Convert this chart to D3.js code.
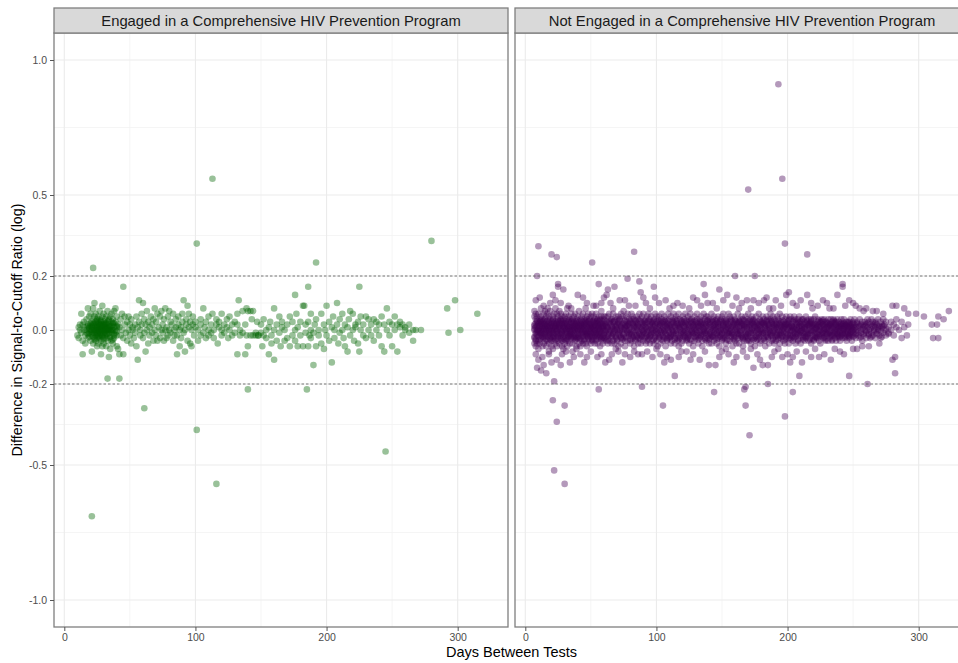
<!DOCTYPE html>
<html><head><meta charset="utf-8">
<script src="https://cdn.jsdelivr.net/npm/d3@7"></script>
<style>
html,body{margin:0;padding:0;background:#fff;}
svg{display:block;font-family:"Liberation Sans",Arial,Helvetica,sans-serif;}
</style></head>
<body><svg id="chart" width="958" height="663"></svg>
<script>
// ---------- DATA ----------
const panelTitles = ["Engaged in a Comprehensive HIV Prevention Program", "Not Engaged in a Comprehensive HIV Prevention Program"];
const xTicks = [0, 100, 200, 300];
const xTickLabels = ["0", "100", "200", "300"];
const xMinorTicks = [50, 150, 250];
const yTicks = [-1, -0.5, -0.2, 0, 0.2, 0.5, 1];
const yTickLabels = ["-1.0", "-0.5", "-0.2", "0.0", "0.2", "0.5", "1.0"];
const yMinorTicks = [-0.75, -0.35, -0.1, 0.1, 0.35, 0.75];
const refLines = [-0.2, 0.2];
const xTitle = "Days Between Tests";
const yTitle = "Difference in Signal-to-Cutoff Ratio (log)";

// Engaged: isolated points [day, diff]
const engagedOutliers = [[22,.23],[113,.56],[101,.32],[280,.33],[192,.25],[61,-.29],[101,-.37],[245,-.45],[116,-.57],[21,-.69],
 [33,-.18],[42,-.18],[140,-.22],[185,-.22],[45,.16],[186,.16],[225,.16],[292,.08],[298,.11],[315,.06],[293,-.01],[302,0],[176,.13]];
// Engaged: rows of [day, diff, diff, ...]
const engagedRows = [
 [10,-.02],[11,.01,-.03],[12,.02,0],[13,-.01,.06],[14,-.09,.02,-.04],[15,0,.03],[16,-.02,.01,-.05],[17,.04,-.01,0],[18,.02,-.03,.08],[19,-.01,.05,.01],[20,-.04,.02,0,.06],
 [21,0,-.08,.03,-.02,.01],[22,.04,-.01,.02,-.05,.08],[23,.1,-.03,0,.02,-.01,.05],[24,.01,-.04,.03,0,-.02,.06],[25,.02,-.01,0,.04,-.06,.01,-.03],
 [26,-.02,.03,0,.01,-.05,.05,-.01],[27,.01,-.03,.02,0,.07,-.02,.04],[28,0,-.09,.02,-.01,.03,-.04,.01],[29,.05,-.02,0,.01,.09,-.06,.02],[30,-.01,.03,0,-.03,.02,.06,-.05],
 [31,.02,0,-.02,.04,-.01,.01],[32,-.03,.01,.05,0,-.06,.02],[33,0,.03,-.02,.07,-.04,.01],[34,-.1,.02,0,-.01,.04],[35,.01,-.03,.05,0,-.07],
 [36,.03,-.01,0,.06,-.04],[37,0,.02,-.05,.04],[38,-.02,.01,.07,-.03],[39,.08,0,-.01,.03],[40,-.02,.05,.01,-.06],
 [41,-.07,.02],[42,.01,-.09],[43,.04,-.02],[44,0,.06],[45,-.09,-.03],[46,.02,.05],[47,-.01],[48,.03,-.04],[49,0,.05],[50,-.02,.02],
 [51,.04,-.05],[52,0,.01],[53,-.03],[54,.02,-.01],[55,.05,-.06],[56,-.11,.01],[57,.03,.11],[58,-.02,0],[59,.06,.02],[60,.1,-.03],
 [61,.04,-.01],[62,.02,-.08],[63,0,.07],[64,-.05,.03],[65,.01,-.02],[66,.05],[67,-.01,.02],[68,.04,-.04],[69,0,.08],[70,-.02,.03],
 [71,.06,-.04],[72,.01],[73,-.03,.05],[74,.07,0],[75,.02,-.01],[76,-.04,.04],[77,.08,0],[78,.01,-.03],[79,.05,-.02],[80,0,.07],
 [81,-.01,.03],[82,.02],[83,-.04,.06],[84,0,-.02],[85,.04,.01],[86,-.09,-.02],[87,.02,.05],[88,-.06,0],[89,.01,-.03],[90,.03,.06],
 [91,.11,-.01],[92,0,-.08],[93,.04,.02],[94,.09,-.04],[95,.01,.06],[96,-.05,.03],[97,0,-.06],[98,.02,.05],[99,-.02],[100,.01,.03],
 [102,-.04,0],[104,.02,-.02,.04],[106,-.01,.08],[107,.01],[108,-.03,.03],[110,0,.05,-.02],[112,-.01,.02],[113,.06],[114,0,-.03],[116,.02,.04],
 [117,-.05],[118,.01,.03],[120,-.02,.06,0],[122,.02,-.01],[124,.04,.01],[125,-.03],[126,0,.05],[128,-.02,.02],[130,.03,-.01],[132,.06,-.09,.02],
 [133,.11],[134,-.02,0],[136,.07,-.01],[138,-.09,.02],[139,.08,-.02],[140,-.06,.07],[142,.07,-.02],[143,.04],[144,-.02,.07],[146,-.01,-.02],
 [147,.03],[148,-.02,-.02],[150,-.01,.02],[151,-.06],[152,-.02,.04],[154,0,-.03],[156,-.09,.01],[157,.03],[158,-.02,-.05],[160,.08,-.11,0],
 [162,.02,-.04],[164,-.01,.05],[165,-.06],[166,.01,.03],[168,-.04,0],[170,-.03,.02],[172,.05,-.06],[174,-.02,.03],[176,0,-.04],[177,.06],
 [178,-.06,.01],[180,.03,-.02],[182,.09,-.06],[183,.09],[184,.02,-.01],[186,-.06,.03],[187,-.02],[188,0,.06,-.03],[190,-.13,-.01],[191,.02],
 [192,-.06,.04],[194,0,-.02],[196,.06,-.05],[198,.02,-.07],[199,0],[200,.09,-.02],
 [202,.03,-.04],[204,-.12,.01],[205,.05],[206,0,-.03],[208,.1,.02],[209,-.05],[210,.04,-.01],[212,0,.06],[213,-.03],[214,.02,-.06],
 [216,-.08,.01],[217,.04],[218,.07,-.02],[220,0,.06],[221,-.04],[222,.02,.01],[224,-.05,.03],[225,-.08],[226,0,.05],[228,.02,-.02],
 [230,.05,-.03],[232,0,.04],[234,-.02,.02],[236,.04,-.04],[238,0,.03],[240,-.02,.02],[242,.05,-.06],[244,.02,-.08],[246,.08,0],[248,.03,-.02],
 [250,.02,-.06],[252,.05,0],[254,-.08,.02],[256,.03,.01],[258,.02,-.02],[260,0,.01],[263,-.01,.02],[266,-.04,0],[268,0],[272,0]
];
// Engaged: extra points in the dense early cluster
const engagedCluster = [
 [18,.015,-.015],[19,-.025,.005],[20,.025,-.005],[21,-.015,.015],[22,.005,-.025],[23,-.035,.025],[24,.015,-.005],[25,-.015,.035],
 [26,.025,-.025],[27,-.005,.015],[28,.035,-.015],[29,-.025,.005],[30,.015,-.035],[31,-.005,.025],[32,.025,-.015],[33,-.015,.005],
 [34,.005,.035],[35,-.025,.015],[36,.015,-.005],[37,-.035,.025],[38,.025,-.015],[40,-.005,.015]
];

// Not engaged: isolated points [day, diff]
const notEngagedOutliers = [[193,.91],[196,.56],[170,.52],[198,.32],[215,.28],[10,.31],[20,.28],[24,.27],[51,.25],[83,.29],[9,.2],[78,.19],[87,.18],
 [160,.2],[175,.2],[136,.17],[56,.17],[25,.17],[242,.17],
 [22,-.19],[56,-.22],[89,-.21],[144,-.23],[168,-.21],[167,-.22],[185,-.2],[204,-.23],[261,-.2],[21,-.26],[30,-.28],[105,-.28],[168,-.28],
 [198,-.32],[24,-.34],[171,-.39],[22,-.52],[30,-.57]];
// Not engaged: scattered points near the band [day, diff]
const notEngagedFringe = [[25,.16],[29,.15],[21,.13],[8,.11],[40,.13],[44,.12],[63,.15],[62,.13],[68,.16],[72,.11],[76,.11],[88,.14],[98,.16],[99,.12],[107,.11],
 [120,.09],[131,.11],[137,.13],[139,.1],[143,.1],[148,.15],[154,.13],[165,.1],[169,.11],[174,.11],[182,.11],[191,.11],[199,.13],[201,.14],[215,.13],
 [223,.09],[227,.11],[238,.13],[242,.16],[250,.1],[252,.09],[260,.08],[273,.06],[280,.09],[283,.09],[289,.08],[292,.06],[298,.06],[304,.05],
 [310,.02],[314,.02],[315,.05],[319,.04],[323,.07],[311,-.03],[315,-.03],[291,-.02],
 [14,.09],[19,.1],[33,.09],[52,.09],[58,.1],[67,.08],[84,.09],[92,.1],[113,.09],[125,.08],[158,.09],[163,.08],[186,.08],[195,.09],[207,.09],
 [219,.08],[232,.08],[244,.09],[255,.08],[268,.07],
 [11,.12],[17,.08],[23,.11],[27,.1],[35,.08],[47,.1],[54,.09],[60,.12],[65,.1],[79,.09],[90,.12],[95,.08],[102,.1],[110,.08],[116,.1],
 [128,.12],[134,.09],[146,.08],[151,.11],[161,.12],[172,.08],[178,.1],[184,.12],[189,.08],[204,.1],[210,.11],[218,.1],[230,.1],[235,.08],
 [247,.11],[258,.07],[265,.07],
 [9,-.14],[14,-.13],[12,-.15],[16,-.16],[10,-.11],[27,-.13],[45,-.12],[61,-.12],[76,-.09],[89,-.09],[97,-.1],[111,-.11],[114,-.17],[117,-.1],
 [133,-.11],[140,-.13],[145,-.13],[169,-.1],[174,-.14],[181,-.13],[185,-.13],[188,-.1],[196,-.1],[204,-.1],[209,-.17],[211,-.12],[218,-.1],
 [224,-.1],[247,-.17],[280,-.11],[282,-.1],[282,-.16],
 [8,-.09],[13,-.1],[18,-.09],[24,-.11],[31,-.08],[37,-.1],[42,-.09],[50,-.08],[55,-.1],[66,-.09],[71,-.08],[80,-.1],[86,-.09],[93,-.08],
 [103,-.09],[108,-.1],[123,-.08],[128,-.09],[150,-.08],[155,-.09],[161,-.1],[177,-.09],[190,-.08],[200,-.09],[214,-.08],[228,-.09],
 [236,-.07],[240,-.08],[253,-.07],[262,-.06],[270,-.05],
 [20,-.12],[28,-.09],[34,-.12],[39,-.07],[47,-.1],[58,-.09],[64,-.11],[69,-.07],[74,-.12],[83,-.08],[100,-.07],[106,-.12],[119,-.08],
 [126,-.11],[137,-.08],[148,-.1],[153,-.07],[159,-.12],[166,-.08],[172,-.07],[179,-.11],[193,-.07],[202,-.12],[207,-.08],[221,-.07],
 [233,-.11],[243,-.09],[250,-.07],[257,-.06]];
// Not engaged: dense band, rows of [day, diff, diff, ...]
const notEngagedRows = [
 [7,.02,-.03,.05,0,-.05,.07],[8,-.01,.04,-.04,.01,.06,-.06],[9,.03,-.02,0,.05,-.05],[10,0,-.04,.02,.06,-.01,-.07],[11,.04,-.01,.01,-.05,.03],
 [12,-.02,.02,.05,-.03,0,.08],[13,.01,-.06,.03,-.01,.04],[14,-.03,0,.06,.02,-.05],[15,.02,-.02,.04,-.04,.01,.07],[16,0,.03,-.06,.05,-.01],
 [17,-.04,.01,.02,-.02,.06],[18,.05,-.01,0,-.05,.03,-.08],[19,-.02,.04,.01,-.03,.07],[20,.03,-.04,0,.02,-.06],[21,-.01,.05,-.03,.01,.04,-.07],
 [22,.02,-.02,.06,-.04,0],[23,-.05,.03,.01,-.01,.08],[24,.04,-.03,0,.02,-.06,.06],[25,-.02,.01,.05,-.04,.03],[26,.01,-.05,.02,-.01,.07],
 [27,-.03,.04,0,.06,-.02],[28,.02,-.01,-.06,.03,.05,-.04],[29,0,.04,-.03,.01,-.07],[30,.05,-.02,.02,-.05,.01],[31,-.01,.03,-.04,.06,0],
 [32,.02,-.03,.04,-.01,-.06,.08],[33,-.04,.01,.03,-.02,.05],[34,.01,-.05,0,.04,-.02],[35,.03,-.01,.06,-.03,.01],[36,-.02,.04,-.05,.02,0,-.08],
 [37,.05,-.03,.01,-.01,.03],[38,0,.02,-.04,.06,-.02],[39,-.03,.04,.01,-.06,.03],[40,.02,-.01,.05,-.03,0],[41,-.05,.03,-.02,.01,.07],
 [42,.04,0,-.03,.02,-.06],[43,-.01,.05,.02,-.04,.01],[44,.03,-.02,0,.06,-.05],[45,-.04,.01,.04,-.01,.02],[46,.02,-.05,.03,0,-.02,.08],
 [47,-.02,.04,-.01,.05,-.06],[48,.01,-.03,.06,-.01,.03],[49,-.04,.02,0,.04,-.02],[50,.05,-.01,.02,-.05,.01],[51,-.02,.03,-.04,.01,.06],
 [52,.03,0,-.03,.05,-.01],[53,-.05,.02,.04,-.02,0],[54,.01,-.04,.03,.06,-.01],[55,.04,-.02,0,-.05,.02],[56,-.01,.05,-.03,.01,.03],
 [57,.02,-.06,.04,0,-.02],[58,-.03,.01,.05,-.01,.07],[59,.03,-.04,.01,.02,-.05],[60,0,.04,-.02,.05,-.03],
 [61,.02,-.03,.05,-.01],[62,-.04,.01,.03,0],[63,.05,-.02,.01,-.05],[64,-.01,.03,-.04,.06],[65,.02,0,-.03,.04],[66,-.05,.04,.01,-.02],
 [67,.03,-.01,.06,-.04],[68,0,.02,-.05,.03],[69,-.02,.05,.01,-.03],[70,.04,-.04,0,.02],[71,-.01,.03,-.06,.05],[72,.02,-.02,.04,0],
 [73,-.03,.01,.06,-.05],[74,.05,-.01,-.03,.02],[75,0,.04,-.02,.07],[76,-.04,.02,.01,-.06],[77,.03,-.03,.05,0],[78,-.01,.06,-.04,.02],
 [79,.02,0,-.02,.04],[80,-.05,.03,.01,-.01],[81,.04,-.02,.06,-.04],[82,0,.02,-.03,.05],[83,-.02,.04,.01,-.06],[84,.03,-.01,-.04,.02],
 [85,.01,.05,-.02,0],[86,-.03,.02,.04,-.05],[87,.06,-.01,.01,-.03],[88,-.02,.03,-.05,.04],[89,.01,0,.05,-.02],[90,-.04,.02,-.01,.06],
 [91,.03,-.03,.02,0],[92,-.01,.04,-.05,.01],[93,.05,-.02,.03,-.04],[94,0,.01,-.03,.06],[95,-.02,.04,.02,-.05],[96,.03,-.01,.05,-.02],
 [97,-.04,.02,0,.03],[98,.01,-.05,.04,-.01],[99,.06,.02,-.03,0],[100,-.02,.03,-.04,.05],[101,.01,-.01,.04,-.06],[102,-.03,.05,.02,0],
 [103,.02,-.02,-.05,.03],[104,0,.04,-.01,.06],[105,-.04,.01,.03,-.02],[106,.05,-.03,0,.02],[107,-.01,.03,-.06,.04],[108,.02,-.02,.01,-.04],
 [109,-.03,.06,.02,0],[110,.04,-.01,-.03,.01],[111,-.02,.02,.05,-.05],[112,.01,-.04,.03,0],[113,.03,.06,-.02,-.01],[114,-.05,.01,.04,-.03],
 [115,.02,-.01,0,.05],[116,-.03,.04,-.04,.02],[117,.01,-.02,.06,-.06],[118,.04,0,-.03,.02],[119,-.01,.03,-.05,.01],[120,.05,-.02,.02,-.04],
 [121,0,.04,-.01,.03],[122,-.03,.01,.06,-.02],[123,.02,-.04,.03,0],[124,-.01,.05,-.03,.02],[125,.04,-.02,.01,-.05],[126,-.02,.03,0,.06],
 [127,.01,-.04,.04,-.01],[128,.03,-.01,-.06,.02],[129,-.04,.02,.05,0],[130,.01,-.03,.03,-.02],[131,.06,0,-.01,.04],[132,-.02,.02,-.05,.01],
 [133,.03,-.03,.04,-.01],[134,0,.05,-.02,.02],[135,-.04,.01,.03,-.06],[136,.02,-.02,.06,0],[137,-.01,.04,-.03,.01],[138,.05,-.01,.02,-.04],
 [139,-.03,.03,0,.05],[140,.01,-.05,.04,-.02],[141,.03,-.01,-.03,.02],[142,-.02,.06,.01,-.05],[143,.04,0,-.02,.03],[144,-.01,.02,-.04,.05],
 [145,.02,-.03,.01,0],[146,-.05,.04,.03,-.01],[147,.01,-.02,.05,-.03],[148,.03,.01,-.01,-.06],[149,-.02,.04,.02,0],[150,.05,-.04,-.01,.03],
 [151,0,.02,-.03,.06],[152,-.03,.01,.04,-.02],[153,.02,-.05,0,.03],[154,-.01,.04,-.02,.01],[155,.06,-.01,.02,-.04],[156,-.04,.03,-.01,.05],
 [157,.01,-.02,.04,0],[158,.03,-.06,.01,-.01],[159,-.02,.02,.05,-.03],[160,.04,0,-.04,.02],[161,-.01,.03,.01,-.05],[162,.02,-.03,.06,0],
 [163,-.05,.01,.03,-.02],[164,.03,-.01,-.03,.04],[165,0,.05,-.02,.02],[166,-.03,.02,.04,-.06],[167,.01,-.04,.02,0],[168,.05,-.02,-.01,.03],
 [169,-.02,.04,.01,-.04],[170,.03,-.01,.06,-.03],[171,-.04,.02,0,.01],[172,.02,-.05,.04,-.01],[173,-.01,.03,-.03,.05],[174,.04,0,.02,-.02],
 [175,-.03,.01,-.06,.03],[176,.01,.05,-.01,-.04],[177,-.02,.02,.03,0],[178,.06,-.03,-.01,.02],[179,0,.04,-.05,.01],[180,-.04,.02,.03,-.02],
 [181,.03,-.01,0,.05],[182,-.01,.04,-.03,.02],[183,.02,-.04,.01,-.06],[184,.05,0,-.02,.03],[185,-.03,.02,.04,-.01],[186,.01,-.05,.02,0],
 [187,.04,-.02,-.01,.06],[188,-.02,.03,.01,-.04],[189,.02,-.01,.05,-.03],[190,-.05,.04,0,.02],[191,.03,-.02,-.04,.01],[192,-.01,.05,.02,-.02],
 [193,.04,-.03,.01,0],[194,-.02,.02,-.05,.06],[195,.01,-.01,.03,-.03],[196,.05,.02,-.02,0],[197,-.04,.03,.01,-.01],[198,.02,-.05,.04,.01],
 [199,-.01,.02,-.03,.05],[200,.03,0,-.02,.02],[201,-.03,.04,.01,-.05],[202,.01,-.01,.05,-.02],[203,.04,-.03,0,.02],[204,-.02,.01,.03,-.04],
 [205,.05,-.01,-.03,.01],[206,0,.03,-.05,.04],[207,-.01,.02,.01,-.02],[208,.03,-.04,.04,0],[209,-.03,.01,-.01,.05],[210,.02,-.02,.03,-.05],
 [211,-.01,.04,0,.01],[212,.04,-.03,.02,-.01],[213,-.02,.01,-.04,.03],[214,.01,.05,-.01,-.03],[215,.03,-.02,.02,0],[216,-.04,.02,.04,-.01],
 [217,.02,-.01,-.03,.01],[218,0,.03,-.05,.04],[219,-.02,.01,.02,-.03],[220,.04,-.04,0,.02],[221,-.01,.02,.05,-.02],[222,.02,-.03,.01,-.01],
 [223,-.03,.04,.03,0],[224,.01,-.02,-.04,.02],[225,.03,0,.01,-.05],[226,-.02,.03,-.01,.04],[227,.02,-.01,.02,-.03],[228,0,.04,-.03,.01],
 [229,-.04,.02,.03,-.01],[230,.03,-.02,.01,0],[231,-.01,.01,-.04,.04],[232,.02,-.03,.02,-.01],[233,.04,0,-.02,.02],[234,-.02,.03,.01,-.04],
 [235,.01,-.01,.04,-.02],[236,-.03,.02,0,.03],[237,.03,-.04,.02,-.01],[238,0,.01,-.02,.04],[239,-.02,.03,.01,-.03],[240,.02,-.01,-.04,.01],
 [241,.04,0,.02,-.02],[242,-.01,.02,-.03,.03],[243,.01,-.02,.04,0],[244,-.03,.01,.02,-.01],[245,.02,-.04,0,.03],[246,-.01,.03,.01,-.02],
 [247,.03,-.02,-.03,.01],[248,0,.02,.04,-.01],[249,-.02,.01,-.04,.02],[250,.03,-.01,.01,0],
 [251,-.02,.02,.04],[252,.01,-.03,0],[253,.03,-.01],[254,-.02,.02,.01],[255,.04,-.03],[256,0,.02,-.01],[257,-.04,.03],[258,.01,-.02,.02],
 [259,.03,0],[260,-.01,.02,-.03],[261,.04,.01],[262,-.02,0,.03],[263,.02,-.03],[264,-.01,.01,.04],[265,.03,-.02],[266,0,.02],
 [267,-.03,.01,.03],[268,.02,-.01],[269,.04,0],[270,-.02,.01],[271,.03,-.03],[272,.01,.02],[273,-.01,.04],[274,.02,0],[275,-.02,.03],
 [277,.01,-.01],[279,.03,0],[281,.02,-.02],[283,.04,.01],[285,0],[287,.03,-.03],[289,.01],[292,.02]
];
// Not engaged: second layer of the dense core, rows of [day, diff, ...]
const notEngagedCore = [
 [7,.015,-.025,.005],[8,-.015,.025,-.035],[9,.035,-.005,.015],[10,-.025,.005,.025],[11,.015,-.035,-.005],[12,.025,-.015,.035],[13,-.005,.015,-.025],
 [14,.035,-.025,.005],[15,-.015,.005,.025],[16,.015,-.035,-.005],[17,-.025,.035,.015],[18,.005,-.015,.025],[19,-.035,.015,-.005],[20,.025,-.025,.005],
 [21,-.005,.035,-.015],[22,.015,-.025,.025],[23,-.035,.005,.015],[24,.025,-.005,-.015],[25,.005,.035,-.025],[26,-.015,.015,.025],[27,.035,-.035,.005],
 [28,-.005,.025,-.015],[29,.015,-.025,.035],[30,-.035,.005,.025],[31,.025,-.015,-.005],[32,.005,.015,-.035],[33,-.025,.035,.005],[34,.015,-.005,-.015],
 [35,-.015,.025,-.025],[36,.035,.005,-.005],[37,-.025,.015,.025],[38,.005,-.035,.015],[39,.025,-.005,-.025],[40,-.015,.035,.005],[41,.015,-.025,-.005],
 [42,-.035,.025,.015],[43,.005,-.015,.035],[44,-.025,.015,-.005],[45,.025,-.035,.005],[46,-.005,.035,-.015],[47,.015,-.025,.025],[48,-.015,.005,-.035],
 [49,.035,-.005,.015],[50,-.025,.025,.005],[51,.005,-.015,-.035],[52,.015,.035,-.025],[53,-.005,.025,.005],[54,-.035,.015,-.015],[55,.025,-.025,.035],
 [56,-.015,.005,.015],[57,.035,-.005,-.025],[58,.005,-.035,.025],[59,-.025,.015,-.005],[60,.015,-.015,.035],
 [61,-.005,.025],[62,.015,-.025],[63,-.035,.005],[64,.025,-.015],[65,-.005,.035],[66,.015,-.025],[67,-.015,.005],[68,.035,-.005],[69,-.025,.015],[70,.005,-.035],
 [71,.025,-.015],[72,-.005,.035],[73,.015,-.025],[74,-.035,.005],[75,.025,-.015],[76,.005,.035],[77,-.025,.015],[78,.015,-.005],[79,-.015,.025],[80,.035,-.035],
 [81,.005,-.015],[82,-.025,.025],[83,.015,-.005],[84,-.035,.035],[85,.025,-.025],[86,-.005,.015],[87,.035,-.015],[88,.005,-.035],[89,-.025,.025],[90,.015,-.005],
 [91,-.015,.035],[92,.025,-.025],[93,-.005,.005],[94,.035,-.035],[95,-.025,.015],[96,.005,-.015],[97,.025,-.005],[98,-.035,.035],[99,.015,-.025],[100,-.005,.005],
 [101,.025,-.015],[102,-.025,.035],[103,.015,-.005],[104,-.035,.025],[105,.005,-.025],[106,.035,-.005],[107,-.015,.015],[108,.025,-.035],[109,-.005,.035],[110,.015,-.025],
 [111,-.025,.005],[112,.035,-.015],[113,-.005,.025],[114,.015,-.035],[115,-.015,.035],[116,.025,-.005],[117,-.035,.015],[118,.005,-.025],[119,.025,.035],[120,-.015,-.005],
 [121,.015,-.025],[122,-.005,.025],[123,.035,-.035],[124,-.025,.005],[125,.015,-.015],[126,-.035,.035],[127,.025,-.005],[128,-.015,.015],[129,.005,-.025],[130,.035,-.005],
 [131,-.025,.025],[132,.015,-.035],[133,-.005,.015],[134,.025,-.025],[135,-.015,.035],[136,.005,-.005],[137,-.035,.025],[138,.015,-.015],[139,-.005,.035],[140,.025,-.035],
 [141,-.015,.005],[142,.035,-.025],[143,-.025,.015],[144,.005,-.005],[145,.025,.035],[146,-.035,-.015],[147,.015,.025],[148,-.005,-.025],[149,.035,.005],[150,-.015,-.035],
 [151,.025,.015],[152,-.025,-.005],[153,.005,.035],[154,-.035,.025],[155,.015,-.015],[156,-.005,.005],[157,.035,-.025],[158,-.015,.015],[159,.025,-.035],[160,-.025,.035],
 [161,.005,-.005],[162,-.015,.025],[163,.035,-.015],[164,-.005,.015],[165,.025,-.025],[166,-.035,.005],[167,.015,.035],[168,-.025,-.015],[169,.005,.025],[170,-.015,-.035],
 [171,.035,.015],[172,-.005,-.025],[173,.025,.005],[174,-.035,.035],[175,.015,-.005],[176,-.025,.025],[177,.005,-.035],[178,-.015,.015],[179,.035,-.025],[180,-.005,.005],
 [181,.025,-.015],[182,-.035,.025],[183,.015,-.005],[184,-.025,.035],[185,.005,-.025],[186,.035,.015],[187,-.015,-.005],[188,.025,.035],[189,-.005,-.035],[190,.015,.005],
 [191,-.025,.025],[192,.005,-.015],[193,-.035,.035],[194,.025,-.005],[195,-.015,.015],[196,.035,-.025],[197,-.005,.005],[198,.015,-.035],[199,-.025,.025],[200,.005,-.015],
 [201,.025,.035],[202,-.035,-.005],[203,.015,.015],[204,-.005,-.025],[205,.035,.005],[206,-.025,-.015],[207,.005,.025],[208,-.015,-.035],[209,.025,.015],[210,-.005,-.005],
 [211,.015,.035],[212,-.035,-.025],[213,.005,.005],[214,-.025,.025],[215,.035,-.015],[216,-.015,.015],[217,.025,-.035],[218,-.005,.035],[219,.015,-.005],[220,-.035,.025],
 [221,.005,-.025],[222,-.025,.005],[223,.015,-.015],[224,-.005,.035],[225,.025,-.025],[226,-.015,.015],[227,.035,-.005],[228,-.025,.005],[229,.005,-.035],[230,-.015,.025],
 [231,.025,-.015],[232,-.005,.015],[233,.015,-.025],[234,-.035,.005],[235,.025,.035],[236,-.015,-.005],[237,.005,.025],[238,-.025,-.015],[239,.015,.005],[240,-.005,-.025],
 [241,.025,.015],[242,-.015,-.005],[243,.005,.025],[244,-.025,.015],[245,.015,-.015],[246,-.005,.005],[247,.025,-.025],[248,-.015,.015],[249,.005,-.005],[250,-.025,.025],
 [251,.005],[252,-.015],[253,.025],[254,-.005],[255,.015],[256,-.025],[257,.005],[258,-.015],[259,.015],[260,-.005],[261,.025],[262,-.015],
 [263,.005],[264,-.025],[265,.015],[266,-.005],[267,.025],[268,-.015],[269,.005],[270,.015],[271,-.005],[272,-.025],[273,.015],[275,.005],[277,-.015]
];

const panelColors = ["#006400", "#440154"];

// ---------- BUILD ----------
function rowsToPoints(rows) { return rows.flatMap(r => r.slice(1).map(v => ({day: r[0], diff: v}))); }
function pairsToPoints(p) { return p.map(d => ({day: d[0], diff: d[1]})); }
const panelData = [
  rowsToPoints(engagedRows).concat(rowsToPoints(engagedCluster), pairsToPoints(engagedOutliers)),
  rowsToPoints(notEngagedRows).concat(rowsToPoints(notEngagedCore), pairsToPoints(notEngagedFringe), pairsToPoints(notEngagedOutliers))
];

const svg = d3.select("#chart");
const panelTop = 33, panelBottom = 627, stripTop = 8;
const panelLefts = [54, 515], panelW = 454;
const y = d3.scaleLinear().domain([-1.1, 1.1]).range([panelBottom, panelTop]);
const xDomain = [-7.855, 338.37];
const borderCol = "#7f7f7f";

panelLefts.forEach((L, i) => {
  const x = d3.scaleLinear().domain(xDomain).range([L, L + panelW]);
  const g = svg.append("g");
  const clipId = "clip" + i;
  svg.append("clipPath").attr("id", clipId).append("rect")
    .attr("x", L).attr("y", panelTop).attr("width", panelW).attr("height", panelBottom - panelTop);
  const inner = g.append("g").attr("clip-path", `url(#${clipId})`);
  inner.selectAll(".ymin").data(yMinorTicks).join("line")
    .attr("x1", L).attr("x2", L + panelW).attr("y1", d => y(d)).attr("y2", d => y(d))
    .attr("stroke", "#f2f2f2").attr("stroke-width", 0.8);
  inner.selectAll(".xmin").data(xMinorTicks).join("line")
    .attr("x1", d => x(d)).attr("x2", d => x(d)).attr("y1", panelTop).attr("y2", panelBottom)
    .attr("stroke", "#f2f2f2").attr("stroke-width", 0.8);
  inner.selectAll(".ymaj").data(yTicks).join("line")
    .attr("x1", L).attr("x2", L + panelW).attr("y1", d => y(d)).attr("y2", d => y(d))
    .attr("stroke", "#ebebeb").attr("stroke-width", 1.1);
  inner.selectAll(".xmaj").data(xTicks).join("line")
    .attr("x1", d => x(d)).attr("x2", d => x(d)).attr("y1", panelTop).attr("y2", panelBottom)
    .attr("stroke", "#ebebeb").attr("stroke-width", 1.1);
  inner.selectAll("circle").data(panelData[i]).join("circle")
    .attr("cx", d => x(d.day)).attr("cy", d => y(d.diff)).attr("r", 3.3)
    .attr("fill", panelColors[i]).attr("fill-opacity", 0.4);
  inner.selectAll(".ref").data(refLines).join("line")
    .attr("x1", L).attr("x2", L + panelW).attr("y1", d => y(d)).attr("y2", d => y(d))
    .attr("stroke", "#555").attr("stroke-width", 0.8).attr("stroke-dasharray", "2.5,2");
  g.append("rect").attr("x", L).attr("y", panelTop).attr("width", panelW).attr("height", panelBottom - panelTop)
    .attr("fill", "none").attr("stroke", borderCol).attr("stroke-width", 1.3);
  g.append("rect").attr("x", L).attr("y", stripTop).attr("width", panelW).attr("height", panelTop - stripTop)
    .attr("fill", "#d9d9d9").attr("stroke", borderCol).attr("stroke-width", 1.3);
  g.append("text").attr("x", L + panelW / 2).attr("y", (stripTop + panelTop) / 2 + 5)
    .attr("text-anchor", "middle").attr("font-size", 14.8).attr("fill", "#1a1a1a").text(panelTitles[i]);
  const xAxis = d3.axisBottom(x).tickValues(xTicks).tickFormat((d, k) => xTickLabels[k]).tickSize(4).tickPadding(3);
  const ax = g.append("g").attr("transform", `translate(0,${panelBottom})`).call(xAxis);
  ax.select(".domain").remove();
  ax.selectAll("line").attr("stroke", "#555");
  ax.selectAll("text").attr("fill", "#4d4d4d").attr("font-size", 10.5).attr("font-family", "'Liberation Sans',Arial,sans-serif");
  if (i === 0) {
    const yAxis = d3.axisLeft(y).tickValues(yTicks).tickFormat((d, k) => yTickLabels[k]).tickSize(4).tickPadding(3);
    const ay = g.append("g").attr("transform", `translate(${L},0)`).call(yAxis);
    ay.select(".domain").remove();
    ay.selectAll("line").attr("stroke", "#555");
    ay.selectAll("text").attr("fill", "#4d4d4d").attr("font-size", 10.5).attr("font-family", "'Liberation Sans',Arial,sans-serif");
  }
});

svg.append("text").attr("x", (panelLefts[0] + panelLefts[1] + panelW) / 2).attr("y", 657)
  .attr("text-anchor", "middle").attr("font-size", 14.5).attr("fill", "#000").text(xTitle);
svg.append("text").attr("transform", `translate(22,${(panelTop + panelBottom) / 2}) rotate(-90)`)
  .attr("text-anchor", "middle").attr("font-size", 14.3).attr("fill", "#000").text(yTitle);
</script></body></html>
